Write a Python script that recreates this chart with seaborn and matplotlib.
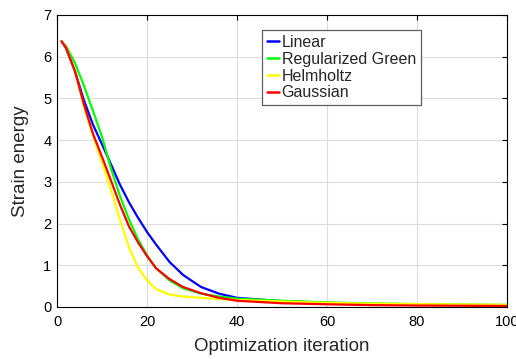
import matplotlib
matplotlib.use("Agg")
import matplotlib.pyplot as plt
import seaborn as sns
import pandas as pd

iterations = [1, 2, 4, 6, 8, 10, 12, 14, 16, 18, 20, 22, 25, 28, 32, 36, 40, 50, 60, 70, 80, 90, 100]
linear = [6.37, 6.20, 5.65, 4.95, 4.37, 3.90, 3.42, 2.93, 2.51, 2.14, 1.80, 1.50, 1.08, 0.77, 0.48, 0.32, 0.22, 0.14, 0.10, 0.07, 0.055, 0.045, 0.04]
reg_green = [6.37, 6.25, 5.85, 5.30, 4.70, 4.08, 3.32, 2.66, 2.10, 1.62, 1.24, 0.93, 0.64, 0.45, 0.32, 0.25, 0.20, 0.15, 0.11, 0.085, 0.07, 0.06, 0.05]
helmholtz = [6.37, 6.22, 5.65, 4.80, 4.10, 3.47, 2.80, 2.10, 1.43, 0.95, 0.64, 0.43, 0.30, 0.25, 0.22, 0.19, 0.17, 0.13, 0.10, 0.08, 0.07, 0.06, 0.05]
gaussian = [6.37, 6.22, 5.65, 4.85, 4.15, 3.60, 3.03, 2.45, 1.93, 1.55, 1.22, 0.93, 0.67, 0.48, 0.33, 0.22, 0.15, 0.09, 0.065, 0.045, 0.035, 0.03, 0.025]

series_names = ["Linear", "Regularized Green", "Helmholtz", "Gaussian"]
series_values = [linear, reg_green, helmholtz, gaussian]
colors = ["#0000ff", "#00ff00", "#ffff00", "#ff0000"]

x_ticks = [0, 20, 40, 60, 80, 100]
y_ticks = [0, 1, 2, 3, 4, 5, 6, 7]

rows = []
for name, vals in zip(series_names, series_values):
    for it, v in zip(iterations, vals):
        rows.append({"iteration": it, "energy": v, "method": name})
df = pd.DataFrame(rows)

sns.set_style("white")
plt.rcParams["font.family"] = ["Liberation Sans", "DejaVu Sans"]

fig = plt.figure(figsize=(5.16, 3.59), dpi=100)
ax = fig.add_axes([57 / 516, 52 / 359, 450 / 516, 292 / 359])

sns.lineplot(data=df, x="iteration", y="energy", hue="method",
             hue_order=series_names, palette=dict(zip(series_names, colors)),
             linewidth=1.6, ax=ax, legend=True)

ax.set_xlim(0, 100)
ax.set_ylim(0, 7)
ax.set_xticks(x_ticks)
ax.set_yticks(y_ticks)
ax.grid(True, color="#dcdcdc", linewidth=0.8)
ax.set_axisbelow(True)
for s in ax.spines.values():
    s.set_visible(True)
    s.set_color("black")
    s.set_linewidth(0.8)
ax.tick_params(direction="in", length=3.5, width=0.8, top=True, right=True,
               labelsize=10.5, colors="black")
ax.tick_params(axis="x", pad=6)
ax.tick_params(axis="y", pad=4)
ax.set_xlabel("Optimization iteration", fontsize=13.5, labelpad=6)
ax.set_ylabel("Strain energy", fontsize=13.5, labelpad=10)

leg = ax.legend(loc="upper left", bbox_to_anchor=(0.455, 0.949), borderaxespad=0,
                fontsize=11.5, handlelength=0.8, handletextpad=0.15, labelspacing=0.12,
                borderpad=0.3, fancybox=False, framealpha=1, edgecolor="#606060")
leg.get_frame().set_linewidth(0.9)
for line in leg.get_lines():
    line.set_linewidth(1.8)

fig.savefig("out.png", dpi=100)
